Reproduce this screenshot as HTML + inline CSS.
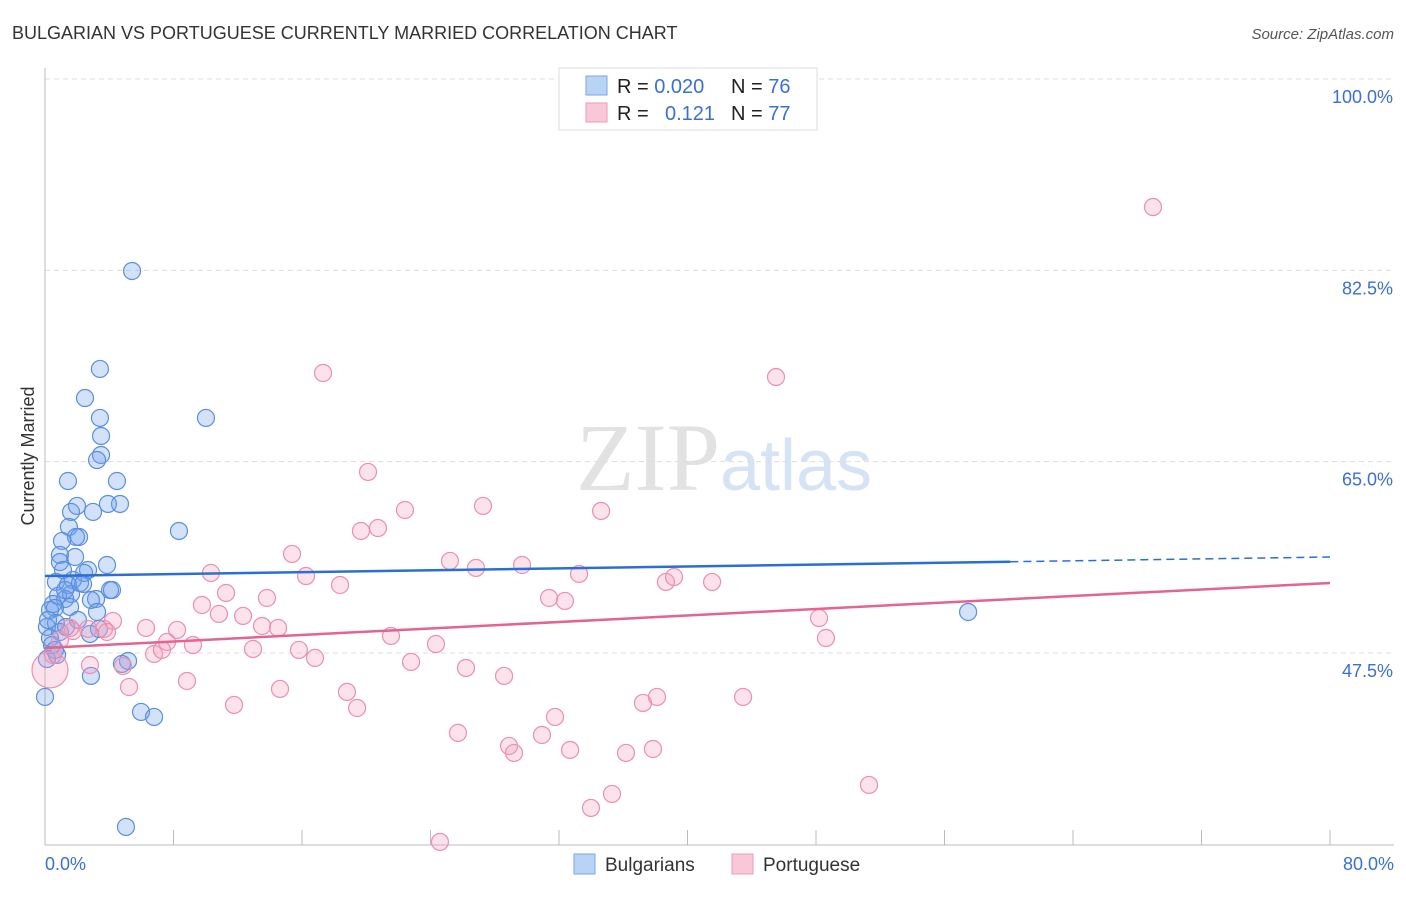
<!DOCTYPE html>
<html><head><meta charset="utf-8"><style>
body{margin:0;background:#fff;font-family:"Liberation Sans",sans-serif}
</style></head><body>
<svg id="c" width="1406" height="892" xmlns="http://www.w3.org/2000/svg">
<text x="12" y="39" font-size="18" fill="#333">BULGARIAN VS PORTUGUESE CURRENTLY MARRIED CORRELATION CHART</text>
<text x="1394" y="39" font-size="15" fill="#555" font-style="italic" text-anchor="end">Source: ZipAtlas.com</text>
<text x="720" y="490" font-size="96" fill="#e2e2e2" font-family="Liberation Serif" text-anchor="end">ZIP</text>
<text x="720" y="490" font-size="72" fill="#d6e3f5">atlas</text>
<g id="grid"></g>
<g id="pts"></g>
<g id="lines"></g>
<text transform="translate(34,456) rotate(-90)" font-size="18" fill="#333" text-anchor="middle">Currently Married</text>
<text x="45" y="870" font-size="18" fill="#3a6fd8">0.0%</text>
<text x="1394" y="870" font-size="18" fill="#3a6fd8" text-anchor="end">80.0%</text>
<g>
<rect x="559" y="68" width="258" height="62" fill="#fff" stroke="#ddd"/>
<rect x="586" y="76" width="21" height="19" fill="#b9d3f5" stroke="#7aa6e8"/>
<rect x="586" y="103" width="21" height="19" fill="#f9c8d8" stroke="#ee9ab6"/>
<text x="617" y="93" font-size="20" fill="#222">R = <tspan fill="#3a6fd8">0.020</tspan><tspan x="731">N = </tspan><tspan fill="#3a6fd8">76</tspan></text>
<text x="617" y="120" font-size="20" fill="#222">R = <tspan x="665" fill="#3a6fd8">0.121</tspan><tspan x="731">N = </tspan><tspan fill="#3a6fd8">77</tspan></text>
</g>
<g>
<rect x="574" y="854" width="21" height="20" fill="#b9d3f5" stroke="#7aa6e8"/>
<text x="605" y="871" font-size="19" fill="#333">Bulgarians</text>
<rect x="732" y="854" width="21" height="20" fill="#f9c8d8" stroke="#ee9ab6"/>
<text x="763" y="871" font-size="19" fill="#333">Portuguese</text>
</g>
</svg>
<script>
const yTicks=[100,82.5,65,47.5];
const xTicks=[0,8,16,24,32,40,48,56,64,72,80];
const blueX=[5.42,3.42,2.49,10.02,3.42,3.49,3.49,3.24,1.43,4.48,4.67,3.92,2.99,1.99,1.62,1.49,8.34,2.12,1.93,1.06,3.86,1.87,0.93,0.93,2.68,2.43,1.74,0.68,1.43,2.37,4.05,1.62,0.81,3.18,1.25,2.86,0.5,1.56,0.62,3.24,0.31,2.05,0.68,0.12,2.8,3.36,0.93,0.31,0.44,0.75,0.12,5.17,4.79,2.86,0,5.98,6.79,5.04,57.47,4.17,1.25,2.18,1.12,0.19,1.31,0.62];
const blueY=[82.44,73.48,70.82,69.0,69.0,67.35,65.61,65.15,63.23,63.23,61.13,61.13,60.4,60.95,60.4,59.03,58.66,58.11,58.11,57.75,55.55,56.28,56.47,55.82,55.09,54.82,54.18,54.0,53.72,53.81,53.26,52.9,52.72,52.44,52.44,52.35,51.98,51.71,51.62,51.25,51.43,50.52,50.25,49.88,49.24,49.7,49.42,48.87,48.23,47.32,46.95,46.77,46.5,45.4,43.48,42.11,41.65,31.59,51.25,53.26,53.26,53.9,55.09,50.52,49.88,47.78];
const pinkX=[68.98,17.31,45.51,20.11,27.27,22.41,34.62,19.67,20.73,15.38,25.21,26.83,29.7,10.33,16.25,18.37,33.25,38.66,39.16,41.53,11.27,13.82,9.77,31.38,32.37,12.33,10.83,4.23,6.29,8.22,13.51,14.51,48.19,48.62,21.54,24.34,7.6,9.21,12.95,15.81,16.81,6.79,7.28,3.67,1.74,2.8,4.86,22.79,26.21,28.58,8.84,5.23,14.63,18.8,19.43,11.77,37.23,38.1,43.46,31.75,25.71,30.94,28.89,29.2,32.69,36.17,37.85,51.3,35.3,33.99,24.59,0.31,0.93,3.86,0.5,1.56,2.68];
const pinkY=[88.29,73.11,72.74,64.06,60.95,60.58,60.49,58.66,58.93,56.56,55.92,55.28,55.55,54.82,54.54,53.72,54.73,54.0,54.45,54.0,52.99,52.53,51.89,52.53,52.26,50.89,51.07,50.43,49.79,49.61,49.97,49.79,50.7,48.87,49.06,48.32,48.51,48.23,47.87,47.78,47.05,47.41,47.78,49.7,49.51,46.4,46.31,46.68,46.13,45.4,44.94,44.39,44.21,43.94,42.47,42.75,42.93,43.48,43.48,41.65,40.19,40.0,39.0,38.36,38.63,38.36,38.72,35.43,34.61,33.33,30.22,45.95,48.69,49.42,47.32,49.79,49.7];
const blueTrend=[54.54,56.28], blueSolidEnd=60.1;
const pinkTrend=[47.96,53.9];
const NS="http://www.w3.org/2000/svg";
const X=v=>45+v/80*1285, Y=v=>79+(100-v)/17.5*191.33;
function mk(tag,attrs,parent){const e=document.createElementNS(NS,tag);for(const k in attrs)e.setAttribute(k,attrs[k]);document.getElementById(parent).appendChild(e);return e;}
yTicks.forEach(t=>{
 const l=mk('line',{x1:45,x2:1394,y1:Y(t),y2:Y(t),stroke:'#ddd','stroke-dasharray':'5,4'},'grid');
 
 
 const tx=mk('text',{x:1393,y:Y(t)+24,'font-size':18,fill:'#3a6fd8','text-anchor':'end'},'grid');
 tx.textContent=t.toFixed(1)+'%';
 
 
});
let ax=mk('line',{x1:45,x2:45,y1:68,y2:845,stroke:'#bbb'},'grid');


ax=mk('line',{x1:45,x2:1394,y1:845,y2:845,stroke:'#bbb'},'grid');


xTicks.forEach(t=>{
 const l=mk('line',{x1:X(t),x2:X(t),y1:830,y2:845,stroke:'#bbb'},'grid');
 
 
});
blueX.forEach((v,i)=>{
 const c=mk('circle',{cx:X(v),cy:Y(blueY[i]),r:8.5,fill:'rgba(110,160,235,0.3)',stroke:'#5a8fe0','stroke-width':1.2},'pts');
 
 
});
pinkX.forEach((v,i)=>{
 const c=mk('circle',{cx:X(v),cy:Y(pinkY[i]),r:i==71?18:8.5,fill:'rgba(245,160,190,0.3)',stroke:'#eb8fb0','stroke-width':1.2},'pts');
 
 
});
const by=v=>blueTrend[0]+(blueTrend[1]-blueTrend[0])*v/80;
let tl=mk('line',{x1:X(0),y1:Y(by(0)),x2:X(blueSolidEnd),y2:Y(by(blueSolidEnd)),stroke:'#2a6fd6','stroke-width':2.5},'lines');


tl=mk('line',{x1:X(blueSolidEnd),y1:Y(by(blueSolidEnd)),x2:X(80),y2:Y(by(80)),stroke:'#2a6fd6','stroke-width':1.5,'stroke-dasharray':'8,5'},'lines');


tl=mk('line',{x1:X(0),y1:Y(pinkTrend[0]),x2:X(80),y2:Y(pinkTrend[1]),stroke:'#e5638f','stroke-width':2.5},'lines');


</script>
</body></html>
